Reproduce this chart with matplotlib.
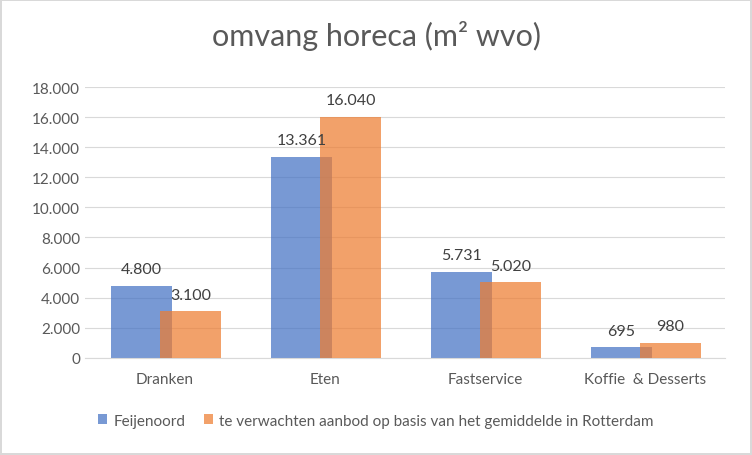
import matplotlib
matplotlib.use("Agg")
import matplotlib.pyplot as plt
import numpy as np

categories = ["Dranken", "Eten", "Fastservice", "Koffie  & Desserts"]
feijenoord = [4800, 13361, 5731, 695]
verwacht = [3100, 16040, 5020, 980]
series_names = ["Feijenoord", "te verwachten aanbod op basis van het gemiddelde in Rotterdam"]

plt.rcParams["font.family"] = "Lato"

def fmt(v):
    return f"{v:,.0f}".replace(",", ".")

fig = plt.figure(figsize=(7.52, 4.56), dpi=100)
fig.patch.set_edgecolor("#D9D9D9")
fig.patch.set_linewidth(1.5)
ax = fig.add_axes([0.113, 0.213, 0.851, 0.594])

x = np.arange(len(categories))
w = 0.38
b1 = ax.bar(x - 0.147, feijenoord, w, color="#4472C4", alpha=0.72, label=series_names[0], zorder=2)
b2 = ax.bar(x + 0.16, verwacht, w, color="#ED7D31", alpha=0.72, label=series_names[1], zorder=3)

for bars in (b1, b2):
    for bar in bars:
        h = bar.get_height()
        ax.annotate(fmt(h), (bar.get_x() + bar.get_width() / 2, h), xytext=(0, 7),
                    textcoords="offset points", ha="center", va="bottom",
                    fontsize=11.5, color="#404040", zorder=4)

ax.set_ylim(0, 18000)
ax.set_yticks(range(0, 18001, 2000))
ax.set_yticklabels([fmt(v) for v in range(0, 18001, 2000)])
ax.set_xlim(-0.5, 3.5)
ax.set_xticks(x)
ax.set_xticklabels(categories)
ax.tick_params(axis="both", length=0, labelsize=11, colors="#595959")
ax.tick_params(axis="x", pad=10)
ax.grid(axis="y", color="#D9D9D9", lw=0.8, zorder=0)
for s in ["top", "right", "left"]:
    ax.spines[s].set_visible(False)
ax.spines["bottom"].set_color("#D9D9D9")

fig.suptitle("omvang horeca (m² wvo)", y=0.955, fontsize=22, color="#595959")
fig.legend(loc="lower center", bbox_to_anchor=(0.5, 0.03), ncol=2, frameon=False,
           fontsize=11, labelcolor="#595959", handlelength=0.6, handleheight=0.6,
           handletextpad=0.4, columnspacing=1.2)

fig.savefig("out.png", dpi=100, edgecolor=fig.get_edgecolor())
